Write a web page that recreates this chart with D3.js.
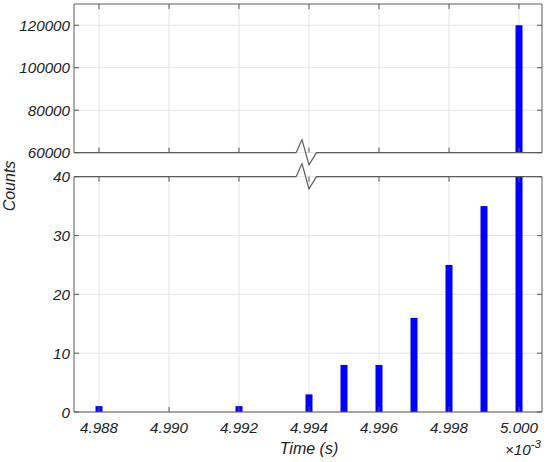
<!DOCTYPE html>
<html><head><meta charset="utf-8">
<script src="https://cdn.jsdelivr.net/npm/d3@7"></script>
<style>body{margin:0;background:#fff}svg{display:block}text{font-family:"Liberation Sans",Arial,sans-serif;font-style:italic;fill:#222}</style>
</head><body>
<script>
// data (time in units of 1e-3 s)
const times = [4.988, 4.992, 4.994, 4.995, 4.996, 4.997, 4.998, 4.999, 5.000];
const counts = [1, 1, 3, 8, 8, 16, 25, 35, 120000];
const xTicks = [4.988, 4.990, 4.992, 4.994, 4.996, 4.998, 5.000];
const yTicksTop = [60000, 80000, 100000, 120000];
const yTicksBottom = [0, 10, 20, 30, 40];
const xDomain = [4.987286, 5.000657];
const yDomainTop = [60000, 130000];
const yDomainBottom = [0, 40];
const breakAt = 4.994;

const W = 550, H = 462;
const L = 74, R = 542;
const topT = 4, topB = 152.7, botT = 176.7, botB = 412;
const svg = d3.select("body").append("svg").attr("width", W).attr("height", H);
const x = d3.scaleLinear().domain(xDomain).range([L, R]);
const yT = d3.scaleLinear().domain(yDomainTop).range([topB, topT]);
const yB = d3.scaleLinear().domain(yDomainBottom).range([botB, botT]);
const axisCol = "#5a5a5a", gridCol = "#e3e3e3";
const fs = 15.2, fl = 16;

function panel(y, t, b, yTicks, clipId) {
  const g = svg.append("g");
  g.selectAll(".gx").data(xTicks).join("line")
    .attr("x1", d => x(d)).attr("x2", d => x(d)).attr("y1", t).attr("y2", b)
    .attr("stroke", gridCol).attr("stroke-width", 1);
  g.selectAll(".gy").data(yTicks).join("line")
    .attr("x1", L).attr("x2", R).attr("y1", d => y(d)).attr("y2", d => y(d))
    .attr("stroke", gridCol).attr("stroke-width", 1);
  svg.append("clipPath").attr("id", clipId).append("rect")
    .attr("x", L).attr("y", t).attr("width", R - L).attr("height", b - t);
  const data = times.map((d, i) => ({t: d, c: counts[i]}));
  g.append("g").attr("clip-path", `url(#${clipId})`)
    .selectAll("rect").data(data.filter(d => d.c > y.domain()[0])).join("rect")
    .attr("x", d => x(d.t) - 3.5).attr("width", 7)
    .attr("y", d => Math.max(t, y(d.c))).attr("height", d => b - Math.max(t, y(d.c)))
    .attr("fill", "#0000ff");
  yTicks.forEach(v => {
    const yy = y(v);
    g.append("line").attr("x1", L).attr("x2", L + 5).attr("y1", yy).attr("y2", yy).attr("stroke", axisCol);
    g.append("line").attr("x1", R).attr("x2", R - 5).attr("y1", yy).attr("y2", yy).attr("stroke", axisCol);
    g.append("text").attr("x", L - 4).attr("y", yy + 5.5).attr("text-anchor", "end")
      .attr("font-size", fs).text(v);
  });
  xTicks.forEach(v => {
    const xx = x(v);
    g.append("line").attr("x1", xx).attr("x2", xx).attr("y1", t).attr("y2", t + 5).attr("stroke", axisCol);
    g.append("line").attr("x1", xx).attr("x2", xx).attr("y1", b).attr("y2", b - 5).attr("stroke", axisCol);
  });
  g.append("line").attr("x1", L).attr("x2", L).attr("y1", t).attr("y2", b).attr("stroke", axisCol);
  g.append("line").attr("x1", R).attr("x2", R).attr("y1", t).attr("y2", b).attr("stroke", axisCol);
  return g;
}
panel(yT, topT, topB, yTicksTop, "clipTop");
panel(yB, botT, botB, yTicksBottom, "clipBot");

function hline(yy) {
  svg.append("line").attr("x1", L).attr("x2", R).attr("y1", yy).attr("y2", yy).attr("stroke", axisCol);
}
hline(topT); hline(botB);
const bx = x(breakAt);
function zig(yy) {
  const p = d3.path();
  p.moveTo(L, yy); p.lineTo(bx - 13, yy); p.lineTo(bx - 7, yy - 13);
  p.lineTo(bx, yy + 12); p.lineTo(bx + 7.5, yy); p.lineTo(R, yy);
  svg.append("path").attr("d", p.toString()).attr("fill", "none").attr("stroke", axisCol).attr("stroke-width", 1.2);
}
zig(topB); zig(botT);

xTicks.forEach(v => {
  svg.append("text").attr("x", x(v)).attr("y", 433).attr("text-anchor", "middle")
    .attr("font-size", fs).text(d3.format(".3f")(v));
});
svg.append("text").attr("x", 309).attr("y", 454).attr("text-anchor", "middle")
  .attr("font-size", fl).text("Time (s)");
const sx = svg.append("text").attr("x", 505).attr("y", 455).attr("font-size", fs);
sx.append("tspan").text("×10");
sx.append("tspan").attr("dy", -7).attr("font-size", 11.5).text("-3");
svg.append("text").attr("transform", "translate(15,186) rotate(-90)").attr("text-anchor", "middle")
  .attr("font-size", fl).text("Counts");
</script>
</body></html>
